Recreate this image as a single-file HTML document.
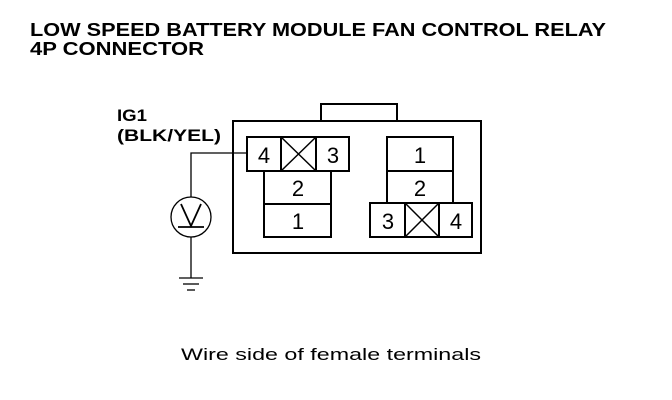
<!DOCTYPE html>
<html><head><meta charset="utf-8"><style>
html,body{margin:0;padding:0;background:#fff;width:672px;height:400px;overflow:hidden}
svg{display:block}
text{font-family:"Liberation Sans",sans-serif;fill:#000}
</style></head><body>
<svg width="672" height="400" viewBox="0 0 672 400">
<g font-weight="bold" font-size="18">
<text x="30" y="36" textLength="576" lengthAdjust="spacingAndGlyphs">LOW SPEED BATTERY MODULE FAN CONTROL RELAY</text>
<text x="30" y="55" textLength="174" lengthAdjust="spacingAndGlyphs">4P CONNECTOR</text>
<text x="117" y="121" font-size="17" textLength="30" lengthAdjust="spacingAndGlyphs">IG1</text>
<text x="117" y="141" font-size="17" textLength="104" lengthAdjust="spacingAndGlyphs">(BLK/YEL)</text>
</g>
<g fill="none" stroke="#000" stroke-width="2">
<rect x="233" y="121" width="248" height="132"/>
<polyline points="321,121 321,104 397,104 397,121"/>
<rect x="247" y="137" width="102" height="34"/>
<line x1="281" y1="137" x2="281" y2="171"/><line x1="316" y1="137" x2="316" y2="171"/>
<line x1="281" y1="137" x2="316" y2="171" stroke-width="1.5"/><line x1="316" y1="137" x2="281" y2="171" stroke-width="1.5"/>
<rect x="264" y="171" width="67" height="66"/>
<line x1="264" y1="204" x2="331" y2="204"/>
<rect x="387" y="137" width="66" height="66"/>
<line x1="387" y1="171" x2="453" y2="171"/>
<rect x="370" y="203" width="102" height="34"/>
<line x1="405" y1="203" x2="405" y2="237"/><line x1="439" y1="203" x2="439" y2="237"/>
<line x1="405" y1="203" x2="439" y2="237" stroke-width="1.5"/><line x1="439" y1="203" x2="405" y2="237" stroke-width="1.5"/>
</g>
<g fill="none" stroke="#000" stroke-width="1.3">
<polyline points="247,153 191,153 191,197"/>
<circle cx="191" cy="217" r="20"/>
<polyline points="181,204 191,226 201,204" stroke-width="1.8"/>
<line x1="178" y1="227" x2="204" y2="227" stroke-width="1.8"/>
<line x1="191" y1="237" x2="191" y2="278"/>
<line x1="179" y1="278" x2="203" y2="278"/>
<line x1="183" y1="284" x2="199" y2="284"/>
<line x1="187" y1="290" x2="195" y2="290"/>
</g>
<g font-size="22" text-anchor="middle">
<text x="264" y="163">4</text><text x="333" y="163">3</text>
<text x="298" y="196">2</text><text x="298" y="229">1</text>
<text x="420" y="163">1</text><text x="420" y="196">2</text>
<text x="388" y="229">3</text><text x="456" y="229">4</text>
</g>
<text x="181" y="360" font-size="17" textLength="300" lengthAdjust="spacingAndGlyphs">Wire side of female terminals</text>
</svg>
</body></html>
